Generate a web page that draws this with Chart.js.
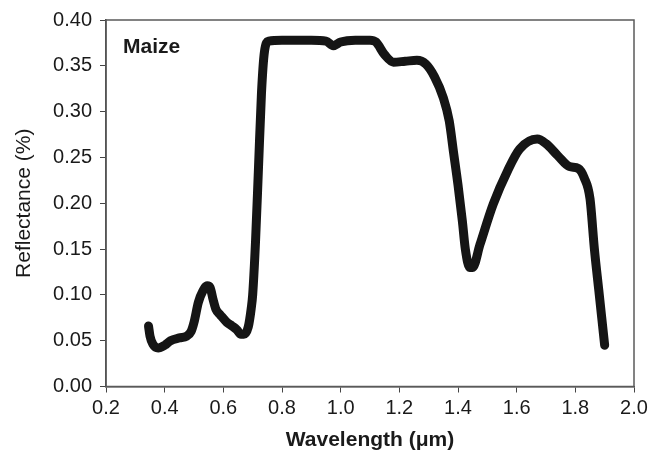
<!DOCTYPE html>
<html>
<head>
<meta charset="utf-8">
<script src="https://cdn.jsdelivr.net/npm/chart.js@4/dist/chart.umd.min.js"></script>
<style>
  html, body { margin: 0; padding: 0; background: #fff; }
  #wrap { width: 662px; height: 454px; }
</style>
</head>
<body>
<div id="wrap"><canvas id="reflChart" width="662" height="454"></canvas></div>
<script>
// wavelength (um) and reflectance
const wavelength = [0.345, 0.350, 0.360, 0.378, 0.400, 0.420, 0.450, 0.475, 0.490, 0.500,
  0.515, 0.530, 0.545, 0.555, 0.565, 0.575, 0.590, 0.612, 0.630, 0.646,
  0.660, 0.670, 0.685, 0.695, 0.700, 0.710, 0.720, 0.730, 0.740, 0.755,
  0.800, 0.850, 0.900, 0.950, 0.975, 1.000, 1.050, 1.100, 1.120, 1.150,
  1.180, 1.220, 1.260, 1.290, 1.320, 1.350, 1.370, 1.385, 1.400, 1.415,
  1.425, 1.440, 1.450, 1.475, 1.520, 1.570, 1.610, 1.670, 1.700, 1.740,
  1.780, 1.810, 1.830, 1.850, 1.865, 1.880, 1.900];
const reflectance = [0.066, 0.055, 0.046, 0.042, 0.045, 0.050, 0.053, 0.055, 0.060, 0.070,
  0.092, 0.104, 0.110, 0.108, 0.095, 0.084, 0.078, 0.070, 0.066, 0.062,
  0.057, 0.057, 0.065, 0.085, 0.100, 0.160, 0.240, 0.320, 0.365, 0.377,
  0.378, 0.378, 0.378, 0.377, 0.372, 0.376, 0.378, 0.378, 0.376, 0.362,
  0.354, 0.355, 0.356, 0.352, 0.338, 0.315, 0.290, 0.255, 0.220, 0.180,
  0.150, 0.130, 0.130, 0.155, 0.199, 0.236, 0.259, 0.270, 0.265, 0.252,
  0.240, 0.238, 0.228, 0.205, 0.150, 0.105, 0.045];
const xTicks = [0.2, 0.4, 0.6, 0.8, 1.0, 1.2, 1.4, 1.6, 1.8, 2.0];
const yTicks = [0.00, 0.05, 0.10, 0.15, 0.20, 0.25, 0.30, 0.35, 0.40];
const label = "Maize";

const points = wavelength.map((w, i) => ({ x: w, y: reflectance[i] }));

// frame on top/right plus the Maize label
const framePlugin = {
    id: "frame",
    afterDraw(chart) {
        const { ctx, chartArea: a } = chart;
        ctx.save();
        ctx.strokeStyle = "#5a5a5a";
        ctx.lineWidth = 1.5;
        ctx.strokeRect(a.left, a.top, a.right - a.left, a.bottom - a.top);
        ctx.fillStyle = "#1a1a1a";
        ctx.font = "bold 21px 'Liberation Sans', Arial, sans-serif";
        ctx.textBaseline = "alphabetic";
        ctx.fillText(label, a.left + 17, a.top + 33);
        ctx.restore();
    }
};

Chart.defaults.font.family = "'Liberation Sans', Arial, sans-serif";
Chart.defaults.color = "#1a1a1a";

const ctx = document.getElementById("reflChart").getContext("2d");
new Chart(ctx, {
    type: "scatter",
    data: {
        datasets: [{
            data: points,
            showLine: true,
            borderColor: "#151515",
            backgroundColor: "#151515",
            borderWidth: 9,
            borderCapStyle: "round",
            borderJoinStyle: "round",
            cubicInterpolationMode: "monotone",
            pointRadius: 0
        }]
    },
    options: {
        responsive: false,
        animation: false,
        layout: { padding: { left: 0, top: 17, right: 28, bottom: 0 } },
        plugins: { legend: { display: false }, tooltip: { enabled: false } },
        scales: {
            x: {
                type: "linear",
                min: 0.2, max: 2.0,
                afterBuildTicks: s => { s.ticks = xTicks.map(v => ({ value: v })); },
                afterFit: s => { s.height = 67.5; },
                ticks: { font: { size: 20 }, padding: 4, callback: v => v.toFixed(1) },
                grid: { drawOnChartArea: false, drawTicks: true, tickLength: 6, color: "#444" },
                border: { color: "#444", width: 1.5 },
                title: { display: true, text: "Wavelength (\u03bcm)", font: { size: 21, weight: "bold" }, padding: { top: 0, bottom: 1 } }
            },
            y: {
                min: 0, max: 0.4,
                afterBuildTicks: s => { s.ticks = yTicks.map(v => ({ value: v })); },
                afterFit: s => { s.width = 106; },
                ticks: { font: { size: 20 }, padding: 8, callback: v => v.toFixed(2) },
                grid: { drawOnChartArea: false, drawTicks: true, tickLength: 6, color: "#444" },
                border: { color: "#444", width: 1.5 },
                title: { display: true, text: "Reflectance (%)", font: { size: 21 }, padding: { top: 12, bottom: 0 } }
            }
        }
    },
    plugins: [framePlugin]
});
</script>
</body>
</html>
